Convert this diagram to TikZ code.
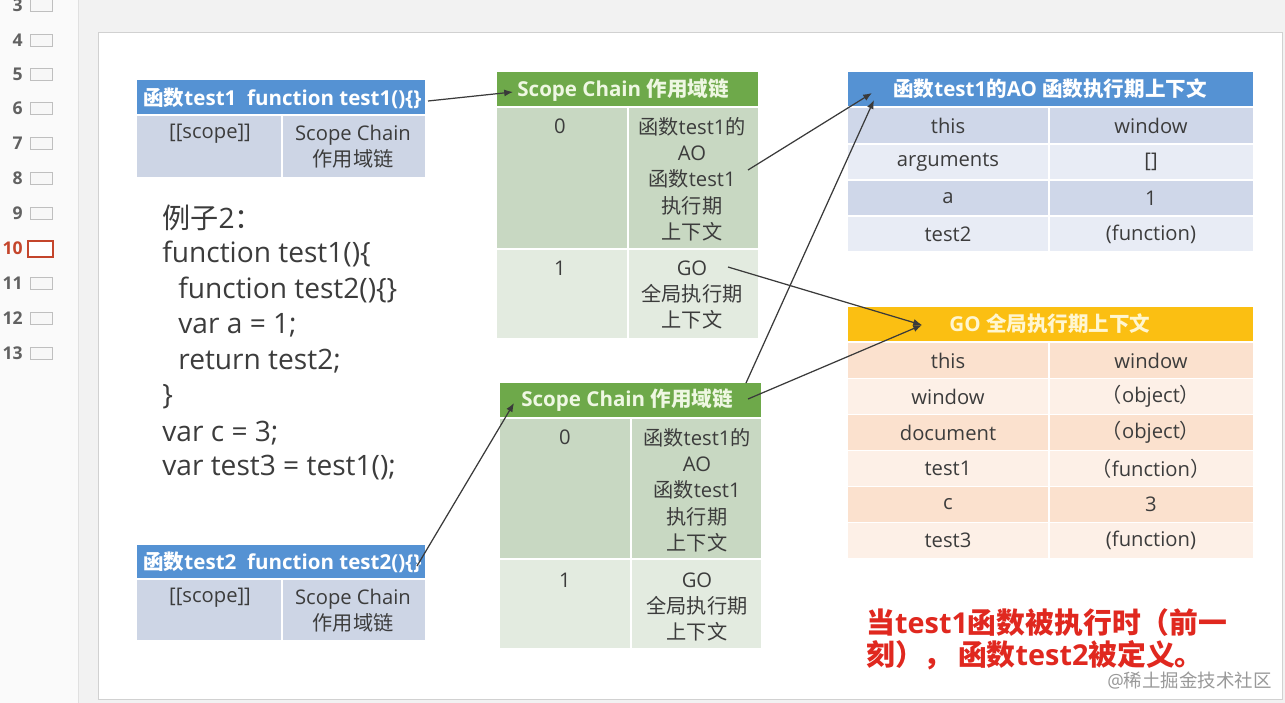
\documentclass[tikz,border=0pt]{standalone}
\usepackage{fontspec}
\setmainfont{Open Sans}
\newfontfamily\cjkfont{Noto Sans CJK SC}
\newcommand\zh[1]{{\cjkfont #1}}
\usetikzlibrary{arrows.meta}
\definecolor{pagebg}{HTML}{F2F2F2}
\definecolor{sidebg}{HTML}{FAFAFA}
\definecolor{hblue}{HTML}{5592D3}
\definecolor{bblue}{HTML}{CDD5E5}
\definecolor{rowbd}{HTML}{CFD7E9}
\definecolor{rowbl}{HTML}{E8ECF5}
\definecolor{hgreen}{HTML}{6EA94A}
\definecolor{gdark}{HTML}{C8D8C2}
\definecolor{glight}{HTML}{E3EBE0}
\definecolor{horange}{HTML}{FBBF12}
\definecolor{odark}{HTML}{FBE1CE}
\definecolor{olight}{HTML}{FDF0E7}
\definecolor{txt}{HTML}{3C3C3C}
\definecolor{redtxt}{HTML}{E0281F}
\definecolor{arrowc}{HTML}{3A3A3A}
\definecolor{thumbred}{HTML}{C4452B}
\definecolor{htgreen}{HTML}{EEF7E2}
\definecolor{htorange}{HTML}{FFF6D0}
\begin{document}
\begin{tikzpicture}[x=0.02cm,y=-0.02cm,
  lbl/.style={inner sep=0pt, text=txt, align=center, font=\fontsize{11.5}{15}\selectfont},
  hdr/.style={inner sep=0pt, text=white, font=\bfseries\fontsize{11.7}{13}\selectfont},
  code/.style={inner sep=0pt, anchor=west, text=txt, font=\fontsize{16}{18}\selectfont},
  link/.style={draw=arrowc, line width=0.7pt, -{Latex[length=5pt,width=4pt]}},
  num/.style={inner sep=0pt, anchor=east, text=black!62, font=\bfseries\fontsize{10}{12}\selectfont},
  thumb/.style={draw=black!25, fill=black!3, line width=0.4pt},
  redline/.style={anchor=west, inner sep=0pt, text=redtxt, font=\bfseries\fontsize{16.4}{18}\selectfont},
]
\useasboundingbox (0,0) rectangle (1285,703);
\fill[pagebg] (0,0) rectangle (1285,703);
\fill[sidebg] (0,0) rectangle (78,703);
\draw[black!12] (78,0) -- (78,703);
\fill[white] (98,32) rectangle (1282,699);
\draw[black!18] (98,32) rectangle (1282,699);

% sidebar
\foreach \n/\y in {3/5,4/40,5/74,6/108,7/143,8/178,9/213,11/283,12/318,13/353}{
  \node[num] (n\n) at (23,\y) {\n};
  \draw[thumb] (30,\y-6) rectangle (52,\y+6);
}
\node[num, text=thumbred] (n10) at (23,248) {10};
\draw[thumbred, line width=1.2pt, fill=white] (28,241) rectangle (53,257);

% test1 box
\fill[hblue] (137,80) rectangle (425,114);
\fill[bblue] (137,116) rectangle (281,177);
\fill[bblue] (283,116) rectangle (425,177);
\node[hdr, anchor=west] (t1ht) at (143,98) {\zh{函数}test1\ \ function test1()\{\}};
\node[lbl] (t1s) at (210,134) {[[scope]]};
\node[lbl] (t1c) at (353,147) {Scope Chain\\\zh{作用域链}};

% test2 box
\fill[hblue] (137,545) rectangle (425,578);
\fill[bblue] (137,580) rectangle (281,640);
\fill[bblue] (283,580) rectangle (425,640);
\node[hdr, anchor=west] (t2ht) at (143,562) {\zh{函数}test2\ \ function test2()\{\}};
\node[lbl] (t2s) at (210,598) {[[scope]]};
\node[lbl] (t2c) at (353,611) {Scope Chain\\\zh{作用域链}};

% code
\node[code] (c0) at (162,218) {\zh{例子}2\zh{：}};
\node[code] (c1) at (162,254) {function test1()\{};
\node[code] (c2) at (178,290) {function test2()\{\}};
\node[code] (c3) at (178,325) {var a = 1;};
\node[code] (c4) at (178,361) {return test2;};
\node[code] (c5) at (162,397) {\}};
\node[code] (c6) at (162,433) {var c = 3;};
\node[code] (c7) at (162,468) {var test3 = test1();};

% scope chain 1
\fill[hgreen] (497,72) rectangle (758,106);
\fill[gdark] (497,108) rectangle (627,248);
\fill[gdark] (629,108) rectangle (758,248);
\fill[glight] (497,250) rectangle (627,338);
\fill[glight] (629,250) rectangle (758,338);
\node[hdr, text=htgreen, anchor=west] (s1h) at (517,90) {Scope Chain \zh{作用域链}};
\node[lbl] (s1r0) at (560,126) {0};
\node[lbl] (s1ao) at (692,179) {\zh{函数}test1\zh{的}\\AO\\\zh{函数}test1\\\zh{执行期}\\\zh{上下文}};
\node[lbl] (s1r1) at (560,268) {1};
\node[lbl] (s1go) at (692,295) {GO\\\zh{全局执行期}\\\zh{上下文}};

% scope chain 2
\fill[hgreen] (500,383) rectangle (761,417);
\fill[gdark] (500,419) rectangle (630,558);
\fill[gdark] (632,419) rectangle (761,558);
\fill[glight] (500,560) rectangle (630,648);
\fill[glight] (632,560) rectangle (761,648);
\node[hdr, text=htgreen, anchor=west] (s2h) at (521,400) {Scope Chain \zh{作用域链}};
\node[lbl] (s2r0) at (565,437) {0};
\node[lbl] (s2ao) at (697,490) {\zh{函数}test1\zh{的}\\AO\\\zh{函数}test1\\\zh{执行期}\\\zh{上下文}};
\node[lbl] (s2r1) at (565,580) {1};
\node[lbl] (s2go) at (697,607) {GO\\\zh{全局执行期}\\\zh{上下文}};

% AO table
\fill[hblue] (848,72) rectangle (1253,106);
\node[hdr] (aoh) at (1050,89) {\zh{函数}test1\zh{的}AO \zh{函数执行期上下文}};
\foreach \i/\ya/\yb/\c/\k/\v in {1/108/143/rowbd/this/window,2/145/179/rowbl/arguments/[],3/181/215/rowbd/a/1,4/217/251/rowbl/test2/(function)}{
  \fill[\c] (848,\ya) rectangle (1048,\yb);
  \fill[\c] (1050,\ya) rectangle (1253,\yb);
  \node[lbl] (aok\i) at (948,{(\ya+\yb)/2}) {\k};
  \node[lbl] (aov\i) at (1151,{(\ya+\yb)/2}) {\v};
}

% GO table
\fill[horange] (848,307) rectangle (1253,341);
\node[hdr, text=htorange] (goh) at (1050,324) {GO \zh{全局执行期上下文}};
\foreach \i/\ya/\yb/\c/\k/\v in {1/343/378/odark/this/window,2/379/414/olight/window/\zh{（}object\zh{）},3/415/450/odark/document/\zh{（}object\zh{）},4/451/486/olight/test1/\zh{（}function\zh{）},5/487/522/odark/c/3,6/523/558/olight/test3/(function)}{
  \fill[\c] (848,\ya) rectangle (1048,\yb);
  \fill[\c] (1050,\ya) rectangle (1253,\yb);
  \node[lbl] (gok\i) at (948,{(\ya+\yb)/2}) {\k};
  \node[lbl] (gov\i) at (1151,{(\ya+\yb)/2}) {\v};
}

% red note
\node[redline] (r1) at (866,623) {\zh{当}test1\zh{函数被执行时（前一}};
\node[redline] (r2) at (866,655) {\zh{刻），}\hspace{3pt}\zh{函数}test2\zh{被定义。}};
\node[anchor=west, inner sep=0pt, text=black!40, font=\fontsize{10.5}{12}\selectfont] (wm) at (1107,680) {@\zh{稀土掘金技术社区}};

% connectors
\coordinate (p1) at (428,101); \coordinate (q1) at (513,92);
\coordinate (p2) at (748,170); \coordinate (q2) at (872,93);
\coordinate (p3) at (746,383); \coordinate (q3) at (874,100);
\coordinate (p4) at (728,267); \coordinate (q4) at (922,325);
\coordinate (p5) at (748,399);
\coordinate (p6) at (417,566); \coordinate (q6) at (514,403);
\draw[link] (p1) -- (q1);
\draw[link] (p2) -- (q2);
\draw[link] (p3) -- (q3);
\draw[link] (p4) -- (q4);
\draw[link] (p5) -- (q4);
\draw[link] (p6) -- (q6);
\end{tikzpicture}
\end{document}
